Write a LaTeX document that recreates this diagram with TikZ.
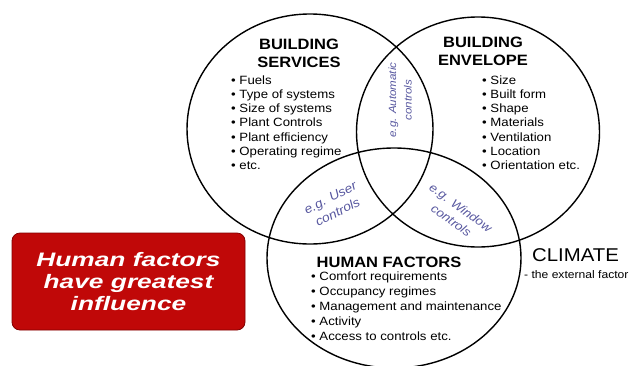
\documentclass[tikz,border=0pt]{standalone}
\usepackage{fontspec}
\setmainfont{Liberation Sans}[FakeStretch=1.1]
\newfontfamily\boxfont{Liberation Sans}[FakeStretch=1.35]
\usepackage{tikz}
\usetikzlibrary{positioning}

\definecolor{hintblue}{RGB}{88,88,160}
\definecolor{boxred}{RGB}{192,8,8}
\definecolor{boxedge}{RGB}{130,0,0}

\begin{document}
\begin{tikzpicture}[
                x=1pt, y=-1pt,
                ring/.style={line width=1.4pt},
                head/.style={font=\fontsize{15}{18}\selectfont\bfseries, align=center, inner sep=0pt},
                item/.style={font=\fontsize{12}{14}\selectfont, anchor=base west, inner sep=0pt},
                hint/.style={font=\fontsize{10.5}{15.5}\selectfont\itshape, text=hintblue, align=center, inner sep=0pt}
            ]
                \useasboundingbox[fill=white] (0,0) rectangle (634,365);
                % the three circles
                \draw[ring] (310,129) ellipse [x radius=123, y radius=115];
                \draw[ring] (478,132) ellipse [x radius=121.5, y radius=115];
                \draw[ring] (394,258) ellipse [x radius=127, y radius=110];

                \node[head] (serv) at (299,53) {BUILDING\\SERVICES};
                \foreach \txt [count=\i] in {Fuels,Type of systems,Size of systems,Plant Controls,Plant efficiency,Operating regime,etc.}
                    \node[item] (bs\i) at (231,{69.7+14.3*\i}) {\textbullet\ \txt};

                \node[head] (env) at (483,51) {BUILDING\\ENVELOPE};
                \foreach \txt [count=\i] in {Size,Built form,Shape,Materials,Ventilation,Location,Orientation etc.}
                    \node[item] (be\i) at (482,{69.7+14.3*\i}) {\textbullet\ \txt};

                \node[head] (hum) at (389,262) {HUMAN FACTORS};
                \foreach \txt [count=\i] in {Comfort requirements,Occupancy regimes,Management and maintenance,Activity,Access to controls etc.}
                    \node[item] (hf\i) at (311,{265+15*\i}) {\textbullet\ \txt};

                % overlaps
                \node[hint, rotate=90]  (auto) at (400,100) {e.g. Automatic\\controls};
                \node[hint, rotate=27, font=\fontsize{12.5}{16}\selectfont\itshape]  (user) at (334,205) {e.g. User\\controls};
                \node[hint, rotate=-36, font=\fontsize{12}{16}\selectfont\itshape] (wind) at (456,214) {e.g. Window\\controls};

                \node[anchor=west, inner sep=0pt, font=\fontsize{18.5}{20}\selectfont] (clim) at (532,255) {CLIMATE};
                \node[anchor=west, inner sep=0pt, font=\fontsize{11}{13}\selectfont] (ext) at (524,275) {- the external factor};

                \node[draw=boxedge, fill=boxred, rounded corners=8pt, line width=0.8pt,
                      minimum width=233, minimum height=97, text=white, align=center,
                      font=\boxfont\fontsize{19.5}{21.7}\selectfont\bfseries\itshape] (msg) at (128.5,281.5)
                      {Human factors\\have greatest\\influence};
            \end{tikzpicture}
\end{document}
